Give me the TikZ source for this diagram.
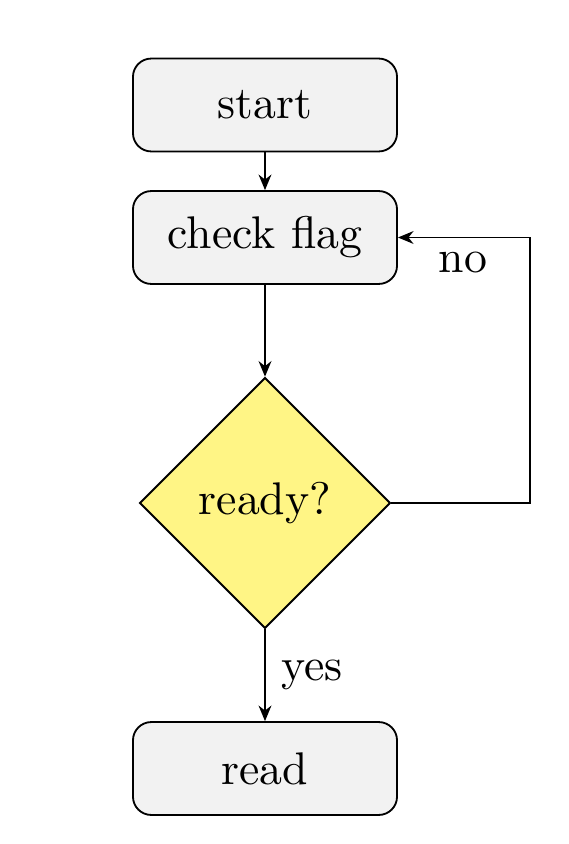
\documentclass[tikz,border=0pt]{standalone}
\usetikzlibrary{shapes.geometric,arrows.meta}

\definecolor{boxgray}{RGB}{242,242,242}
\definecolor{askyellow}{RGB}{255,245,133}

\tikzset{every picture/.style={line width=0.4pt}}

\begin{document}
\begin{tikzpicture}[
            x=0.2185pt,
            y=0.2185pt,
            yscale=-1,
            xscale=1,
            every node/.style={text=black},
            stepbox/.style={draw=black,fill=boxgray,rounded corners=4pt,minimum width=57.7pt,minimum height=20.3pt,inner sep=0pt},
            askbox/.style={draw=black,fill=askyellow,diamond,aspect=1,minimum width=54.8pt,minimum height=54.8pt,inner sep=0pt},
            flow/.style={draw=black,-{Stealth[length=3.4pt,width=2.8pt]}}
        ]
            \useasboundingbox (0,0) rectangle (568,844);
            % boxes
            \node[stepbox] (start) at (265,105) {start};
            \node[stepbox] (check) at (265,237.5) {check flag};
            \node[askbox] (ready) at (265,503) {ready?};
            \node[stepbox] (read) at (265,768.5) {read};
            \coordinate (turn) at (530,503);
            % arrows
            \draw[flow] (start) -- (check);
            \draw[flow] (check) -- (ready);
            \draw[flow] (ready) -- node[right] (yes) {yes} (read);
            \draw[flow] (ready.east) -- (turn) |- (check.east);
            \node (no) at (463,262) {no};
        \end{tikzpicture}
\end{document}
